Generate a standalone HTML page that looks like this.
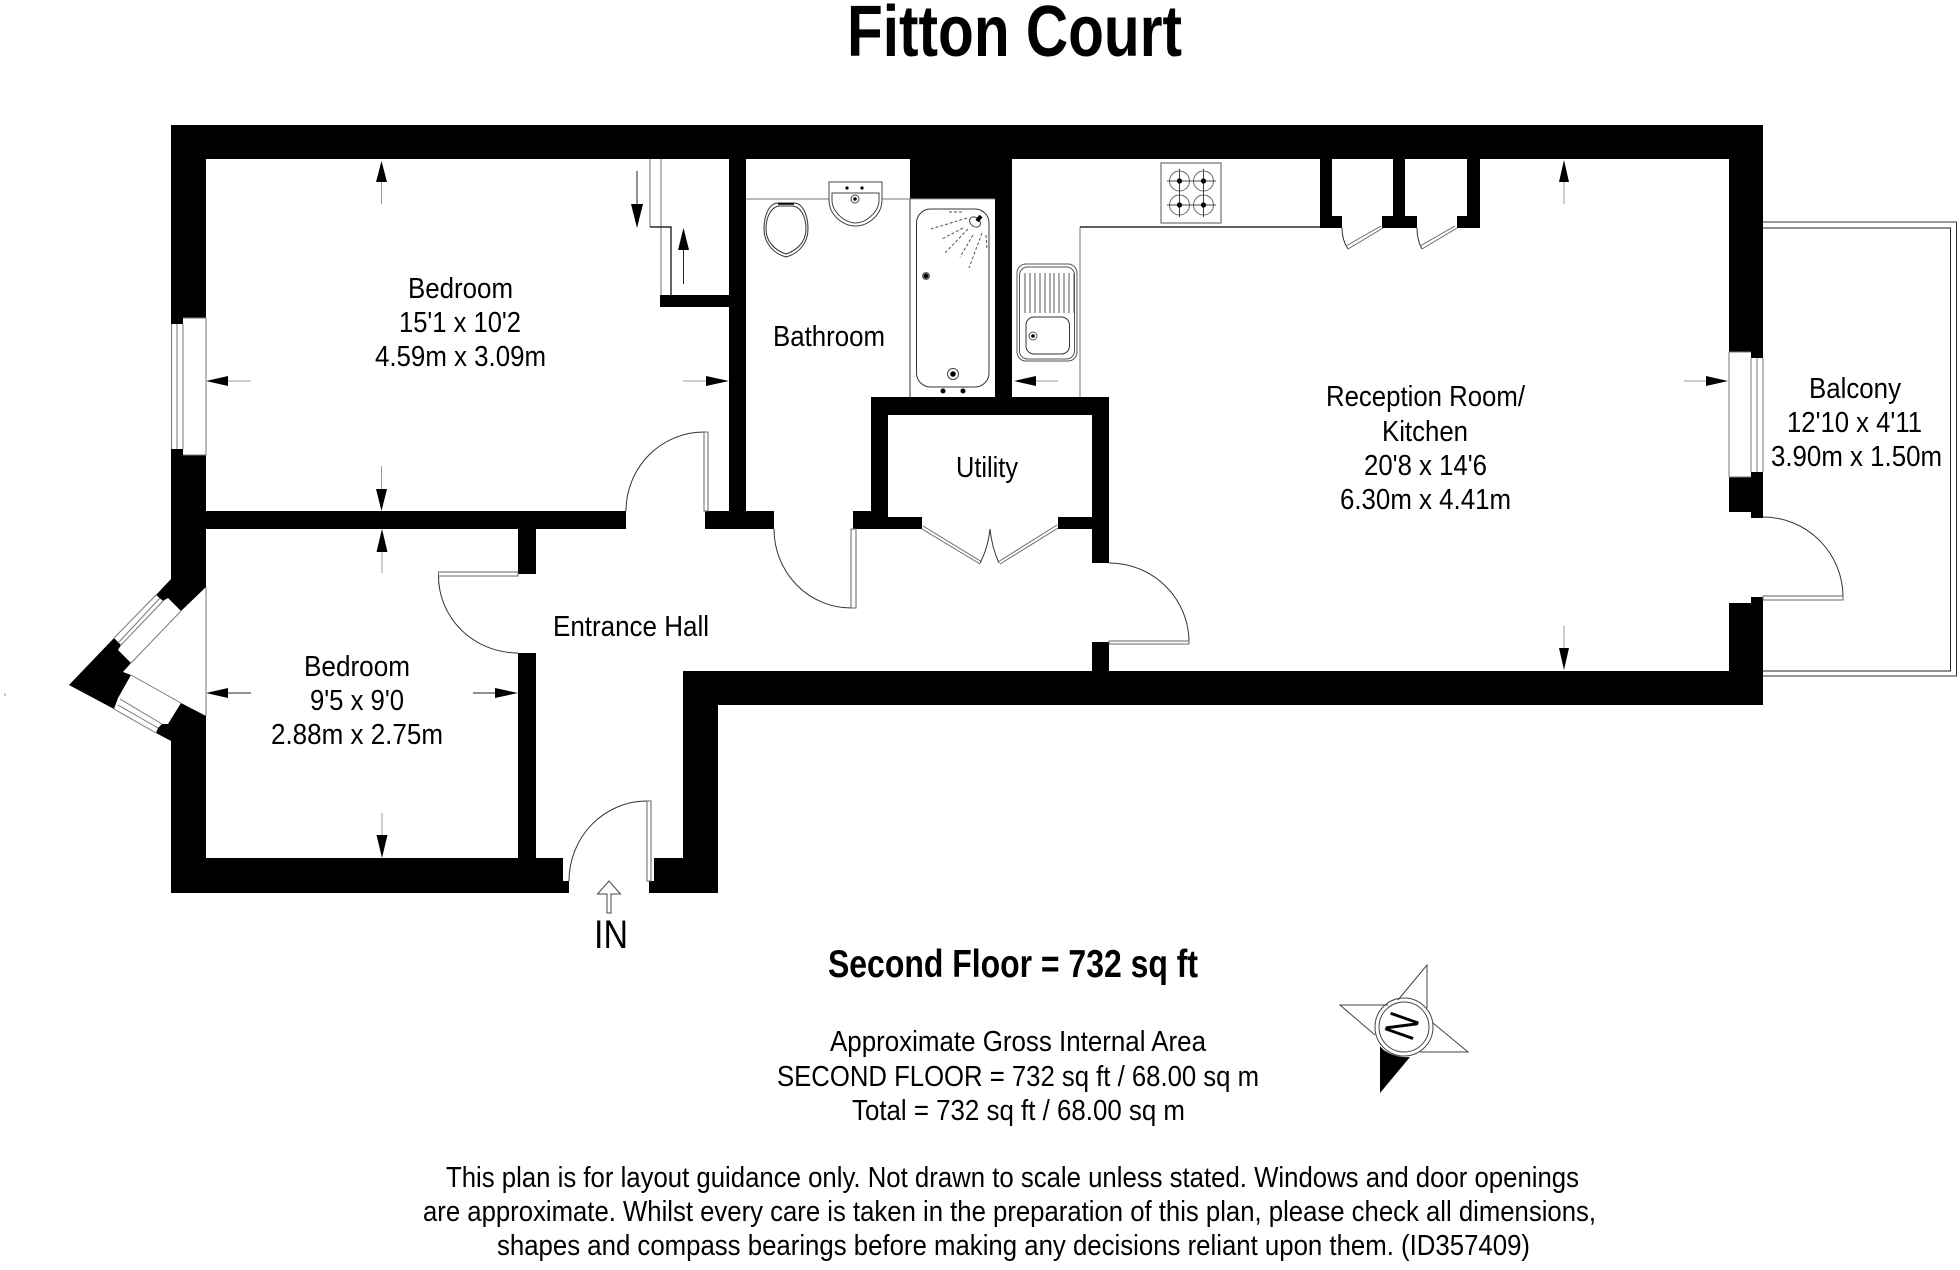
<!DOCTYPE html>
<html><head><meta charset="utf-8"><title>Fitton Court</title>
<style>html,body{margin:0;padding:0;background:#fff}svg{display:block}text{font-family:"Liberation Sans",sans-serif;fill:#000;font-size:29px}</style></head>
<body>
<svg width="1960" height="1270" viewBox="0 0 1960 1270" xmlns="http://www.w3.org/2000/svg">
<rect width="1960" height="1270" fill="#fff"/>
<!-- balcony -->
<g fill="none" stroke="#333" stroke-width="1">
<path d="M1763 222H1956.500V676H1763"/><path d="M1763 228H1950.500V671H1763" stroke="#222"/>
</g>
<!-- walls -->
<g fill="#000">
<rect x="171" y="125" width="1592" height="34"/>
<rect x="171" y="125" width="35" height="193"/><rect x="171" y="318" width="12" height="6"/><rect x="171" y="449" width="12" height="6"/><rect x="171" y="455" width="35" height="123"/>
<polygon points="171,570 206,570 206,587 181,611 168,598 163,601 156,595 171,579"/>
<polygon points="114,638 69,685 114,709 118,698 131,675 123,672 131,663 118,650 121,645"/>
<polygon points="181,703 206,716 206,760 171,760 171,741 156,733 158,728 162,724 168,724"/>
<rect x="171" y="742" width="35" height="151"/>
<polygon points="171,858 563,858 563,881 569,881 569,893 171,893"/>
<polygon points="654,858 683,858 683,671 1763,671 1763,705 718,705 718,893 649,893 649,881 654,881"/>
<rect x="206" y="511" width="420" height="18"/>
<rect x="705" y="511" width="69" height="18"/>
<rect x="729" y="159" width="17" height="360"/>
<rect x="660" y="295" width="70" height="12"/>
<rect x="518" y="529" width="18" height="45"/><rect x="518" y="653" width="18" height="206"/>
<rect x="871" y="397" width="238" height="18"/>
<rect x="871" y="397" width="17" height="132"/>
<rect x="853" y="511" width="35" height="18"/><rect x="888" y="517" width="34" height="12"/>
<rect x="1058" y="517" width="34" height="12"/>
<rect x="1092" y="397" width="17" height="166"/>
<rect x="1092" y="642" width="17" height="30"/>
<rect x="910" y="159" width="102" height="40"/>
<rect x="995" y="190" width="17" height="207"/>
<rect x="1320" y="159" width="12" height="69"/><rect x="1320" y="216" width="22" height="12"/>
<rect x="1393" y="159" width="12" height="69"/><rect x="1382" y="216" width="35" height="12"/>
<rect x="1467" y="159" width="13" height="69"/><rect x="1457" y="216" width="23" height="12"/>
<rect x="1729" y="125" width="34" height="227"/><rect x="1751" y="352" width="12" height="6"/><rect x="1751" y="472" width="12" height="6"/>
<rect x="1729" y="477" width="34" height="35"/><rect x="1751" y="512" width="12" height="6"/>
<rect x="1751" y="597" width="12" height="6"/><rect x="1729" y="603" width="34" height="102"/>
</g>
<!-- windows and thin lines -->
<g fill="none" stroke="#777" stroke-width="1">
<path d="M206 318V455M183 318H206M183 455H206M171.500 324V449M177 324V449M183 324V449"/>
<path d="M1729 352V477M1729 352H1751M1729 477H1751M1751 358V472M1757 358V472M1763 358V472"/>
<path d="M156 595L114 638M160 598L119 642M163 601L121 645M181 611L131 663"/>
<path d="M131 675L181 703M120 699L162 724M118 705L158 728M114 709L156 733"/>
<path d="M206 587V716"/>
<path d="M650 159V227M661 159V295"/>
<path d="M746 199H829M882 199H910"/>
<path d="M910 199H995" stroke="#999"/>
<path d="M1080 227V397"/>
</g>
<path d="M910 199V397" stroke="#333" fill="none"/>
<path d="M650 227H671V295M1080 227H1320" stroke="#000" stroke-width="1.200" fill="none"/>
<!-- doors -->
<g fill="none" stroke="#333" stroke-width="1">
<path d="M626 511A78 79 0 0 1 704 432"/>
<path d="M438.500 576A79.500 77 0 0 0 518 653"/>
<path d="M569 881A78 80 0 0 1 647 801"/>
<path d="M774 529A77 79 0 0 0 851 608"/>
<path d="M1109 563A80 79 0 0 1 1189 642"/>
<path d="M1763 517A80 80 0 0 1 1843 597"/>
<path d="M980 563Q988 548 990 529M999 563Q992 548 990 529"/>
<path d="M1342 228Q1342 240 1348 249M1417 228Q1417 240 1422 249"/>
<g stroke="#666">
<rect x="704" y="432" width="4" height="79"/>
<rect x="438.500" y="572" width="79.500" height="4"/>
<rect x="647" y="801" width="4" height="80"/>
<rect x="851" y="529" width="5" height="79"/>
<rect x="1109" y="641" width="80" height="3"/>
<rect x="1763" y="596" width="80" height="4"/>
<path d="M922 529L980 564M923 526L982 562M1058 528L1000 564M1057 525L998 562"/>
<path d="M1348 249L1383 228M1346 246L1381 226M1422 249L1457 228M1420 246L1455 226"/>
</g>
</g>
<!-- dimension arrows -->
<g stroke="#999" stroke-width="1" fill="none">
<path d="M381.500 182V204M381.500 466V489M382 552V573M382 813V835"/>
<path d="M228 381H251M683 381H706M1036 381H1058M1684 381H1706"/>
<path d="M1564 182V204M1564 626V648"/>
</g>
<path d="M228 693H251M473 693H495M637 171V204M683.500 250V284" stroke="#222" fill="none"/>
<g fill="#000">
<polygon points="381.500,161 376,182 387,182"/><polygon points="381.500,511 376,489 387,489"/>
<polygon points="382,529 376.500,552 387.500,552"/><polygon points="382,858 376.500,835 387.500,835"/>
<polygon points="206,381 228,376 228,386"/><polygon points="729,381 706,376 706,386"/>
<polygon points="206,693 228,688 228,698"/><polygon points="518,693 495,688 495,698"/>
<polygon points="637,228 631,204 643,204"/><polygon points="683.500,228 678,250 689,250"/>
<polygon points="1014,381 1036,376 1036,386"/>
<polygon points="1564,160 1559,182 1569,182"/><polygon points="1564,670 1559,648 1569,648"/>
<polygon points="1728,381 1706,376 1706,386"/>
</g>
<!-- IN arrow -->
<path d="M607 913V894H597.500L609 881L620.500 894H611V913Z" fill="#fff" stroke="#444" stroke-width="1"/>
<!-- WC -->
<g fill="none" stroke="#333" stroke-width="1">
<path d="M786 257C772 253 764 242 764 229C764 214 770 203 778 203H794C802 203 808 214 808 229C808 242 800 253 786 257Z"/>
<path d="M786 254C774 250 766 241 766 229C766 216 772 206 780 206H792C800 206 806 216 806 229C806 241 798 250 786 254Z"/>
</g>
<path d="M778 204H794" stroke="#000" stroke-width="1.500"/>
<!-- basin -->
<g fill="#fff" stroke="#444" stroke-width="1">
<path d="M829 182H882V200C882 215 868 226 855.500 226C843 226 829 215 829 200Z"/>
<path d="M832 193H879V200C879 212 866 223 855.500 223C845 223 832 212 832 200Z"/>
<circle cx="855" cy="199" r="4"/>
</g>
<g fill="#000"><circle cx="855" cy="199" r="1.800"/><circle cx="847" cy="188" r="1.600"/><circle cx="862" cy="188" r="1.600"/></g>
<!-- bath -->
<rect x="916.500" y="209" width="72.500" height="178" rx="14" fill="none" stroke="#333"/>
<path d="M967 218L931 229M963 228L942 239M968 229L945 253M973 235L960 257M982 233L969 268M986 235L987 250M949 212H963" stroke="#555" stroke-dasharray="3 2" fill="none"/>
<ellipse cx="975" cy="222" rx="6" ry="4.500" transform="rotate(40 975 222)" fill="#fff" stroke="#444"/>
<path d="M977 221L981 216" stroke="#000" stroke-width="4"/>
<circle cx="926" cy="276" r="4" fill="#666"/><circle cx="926" cy="276" r="2.200" fill="#000"/>
<circle cx="953" cy="374" r="5.500" fill="#fff" stroke="#444"/><circle cx="953" cy="374" r="2.800" fill="#000"/>
<circle cx="943" cy="391" r="2.500"/><circle cx="963" cy="391" r="2.500"/>
<!-- sink -->
<g fill="none" stroke="#555">
<rect x="1017" y="264" width="60" height="97" rx="9"/><rect x="1019.500" y="267" width="55" height="92" rx="8"/>
<path d="M1025 273V313M1030 273V313M1035 273V313M1040 273V313M1045 273V313M1050 273V313M1054 273V313M1059 273V313M1064 273V313M1069 273V313M1074 273V313"/>
<rect x="1026" y="317" width="43.500" height="37" rx="8" fill="#fff" stroke="#333"/>
<circle cx="1033" cy="336" r="4"/>
</g>
<circle cx="1033" cy="336" r="1.800"/>
<!-- hob -->
<rect x="1161" y="163" width="60" height="60" fill="none" stroke="#555"/>
<g fill="none" stroke="#666">
<circle cx="1179.500" cy="181" r="10"/><circle cx="1203.500" cy="181" r="10"/><circle cx="1179.500" cy="205" r="10"/><circle cx="1203.500" cy="205" r="10"/>
</g>
<path d="M1167 181H1192M1191 181H1216M1167 205H1192M1191 205H1216M1179.500 169V193M1179.500 193V217M1203.500 169V193M1203.500 193V217" stroke="#444" fill="none"/>
<g><circle cx="1179.500" cy="181" r="2.600"/><circle cx="1203.500" cy="181" r="2.600"/><circle cx="1179.500" cy="205" r="2.600"/><circle cx="1203.500" cy="205" r="2.600"/></g>
<!-- compass -->
<g fill="none" stroke="#444">
<path d="M1398 1000L1427 965V1008M1388 1005H1340L1375 1035M1433 1023L1468 1052H1420"/>
<circle cx="1404" cy="1027" r="29"/><circle cx="1404" cy="1027" r="25"/>
</g>
<path d="M1380 1093V1046C1384 1052 1396 1058 1410 1057Z" fill="#000"/>
<text transform="translate(1402 1026) rotate(109.4) scale(.8 1)" x="0" y="15" text-anchor="middle" style="font-size:43px">N</text>
<path d="M5 693V696" stroke="#999"/>
<!-- text -->
<text x="847" y="56" textLength="335" lengthAdjust="spacingAndGlyphs" style="font-size:72px;font-weight:bold">Fitton Court</text>
<text x="408" y="298" textLength="105" lengthAdjust="spacingAndGlyphs">Bedroom</text>
<text x="399" y="332" textLength="122" lengthAdjust="spacingAndGlyphs">15'1 x 10'2</text>
<text x="375" y="366" textLength="171" lengthAdjust="spacingAndGlyphs">4.59m x 3.09m</text>
<text x="304" y="676" textLength="106" lengthAdjust="spacingAndGlyphs">Bedroom</text>
<text x="310" y="710" textLength="94" lengthAdjust="spacingAndGlyphs">9'5 x 9'0</text>
<text x="271" y="744" textLength="172" lengthAdjust="spacingAndGlyphs">2.88m x 2.75m</text>
<text x="773" y="346" textLength="112" lengthAdjust="spacingAndGlyphs">Bathroom</text>
<text x="956" y="477" textLength="62" lengthAdjust="spacingAndGlyphs">Utility</text>
<text x="553" y="636" textLength="156" lengthAdjust="spacingAndGlyphs">Entrance Hall</text>
<text x="1326" y="406" textLength="199" lengthAdjust="spacingAndGlyphs">Reception Room/</text>
<text x="1382" y="441" textLength="86" lengthAdjust="spacingAndGlyphs">Kitchen</text>
<text x="1364" y="475" textLength="123" lengthAdjust="spacingAndGlyphs">20'8 x 14'6</text>
<text x="1340" y="509" textLength="171" lengthAdjust="spacingAndGlyphs">6.30m x 4.41m</text>
<text x="1809" y="398" textLength="92" lengthAdjust="spacingAndGlyphs">Balcony</text>
<text x="1787" y="432" textLength="135" lengthAdjust="spacingAndGlyphs">12'10 x 4'11</text>
<text x="1771" y="466" textLength="171" lengthAdjust="spacingAndGlyphs">3.90m x 1.50m</text>
<text x="594" y="948" textLength="34" lengthAdjust="spacingAndGlyphs" style="font-size:40px">IN</text>
<text x="828" y="977" textLength="370" lengthAdjust="spacingAndGlyphs" style="font-size:39px;font-weight:bold">Second Floor = 732 sq ft</text>
<text x="830" y="1051" textLength="376" lengthAdjust="spacingAndGlyphs">Approximate Gross Internal Area</text>
<text x="777" y="1086" textLength="482" lengthAdjust="spacingAndGlyphs">SECOND FLOOR = 732 sq ft / 68.00 sq m</text>
<text x="852" y="1120" textLength="333" lengthAdjust="spacingAndGlyphs">Total = 732 sq ft / 68.00 sq m</text>
<text x="446" y="1187" textLength="1133" lengthAdjust="spacingAndGlyphs">This plan is for layout guidance only. Not drawn to scale unless stated. Windows and door openings</text>
<text x="423" y="1221" textLength="1173" lengthAdjust="spacingAndGlyphs">are approximate. Whilst every care is taken in the preparation of this plan, please check all dimensions,</text>
<text x="497" y="1255" textLength="1033" lengthAdjust="spacingAndGlyphs">shapes and compass bearings before making any decisions reliant upon them. (ID357409)</text>
</svg>
</body></html>
